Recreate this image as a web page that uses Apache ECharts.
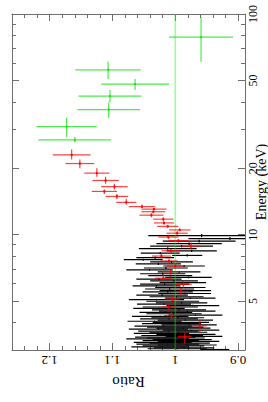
<!DOCTYPE html>
<html><head><meta charset="utf-8">
<script src="https://cdn.jsdelivr.net/npm/echarts@6/dist/echarts.min.js"></script>
<style>html,body{margin:0;padding:0;background:#fff}#c{width:268px;height:402px}</style>
</head><body><div id="c"></div>
<script>
// ---------- axis ticks ----------
const ratioMajorTicks = [0.9, 1, 1.1, 1.2];
const ratioMinorTicks = [0.92, 0.94, 0.96, 0.98, 1.02, 1.04, 1.06, 1.08, 1.12, 1.14, 1.16, 1.18, 1.22, 1.24];
const energyMajorTicks = [5, 10, 20, 50, 100];
const energyMinorTicks = [3, 4, 6, 7, 8, 9, 30, 40, 60, 70, 80, 90];

// ---------- black data (energy keV, half width keV, ratio, ratio error) ----------
const blackE = [9.90, 9.60, 9.35, 9.10, 8.87, 8.65, 8.44, 8.24, 8.05, 7.87, 7.70, 7.53, 7.37, 7.21, 7.06, 6.92, 6.78, 6.65, 6.52, 6.40, 6.28, 6.17, 6.06, 5.96, 5.86, 5.76, 5.67, 5.58,
  5.50, 5.41, 5.32, 5.23, 5.15, 5.07, 4.99, 4.91, 4.84, 4.77, 4.70, 4.63, 4.56, 4.50, 4.44, 4.38, 4.32, 4.26, 4.20, 4.15, 4.10, 4.05, 4.00, 3.95, 3.90, 3.85, 3.81, 3.77, 3.73, 3.69, 3.65, 3.61, 3.57, 3.53, 3.49, 3.46, 3.43, 3.40, 3.37, 3.34, 3.31, 3.28, 3.25, 3.22, 3.19, 3.16, 3.13, 3.10, 3.07, 3.04, 3.015];
const blackHw = [0.16, 0.15, 0.13, 0.12, 0.11, 0.11, 0.10, 0.10, 0.09, 0.09, 0.085, 0.08, 0.08, 0.075, 0.075, 0.07, 0.07, 0.065, 0.065, 0.06, 0.06, 0.055, 0.055, 0.05, 0.05, 0.05, 0.045, 0.045,
  0.045, 0.045, 0.045, 0.04, 0.04, 0.04, 0.04, 0.04, 0.035, 0.035, 0.035, 0.035, 0.035, 0.03, 0.03, 0.03, 0.03, 0.03, 0.03, 0.025, 0.025, 0.025, 0.025, 0.025, 0.025, 0.025, 0.02, 0.02, 0.02, 0.02, 0.02, 0.02, 0.02, 0.02, 0.02, 0.015, 0.015, 0.015, 0.015, 0.015, 0.015, 0.015, 0.015, 0.015, 0.015, 0.015, 0.015, 0.015, 0.015, 0.015, 0.015];
const blackR = [0.958, 0.913, 0.962, 0.978, 0.990, 1.012, 0.974, 1.024, 0.981, 1.032, 1.051, 1.006, 1.027, 0.986, 1.015, 1.041, 0.994, 1.020, 1.008, 0.979, 1.026, 1.002, 0.988, 1.017, 1.030, 0.992, 1.009, 0.984,
  1.012, 0.985, 1.021, 0.998, 0.976, 1.030, 1.004, 0.990, 1.018, 0.972, 1.008, 1.026, 0.994, 0.981, 1.015, 1.002, 0.968, 1.024, 0.996, 1.010, 0.984, 1.033, 0.991, 1.006, 0.978, 1.019, 1.000, 0.987, 1.027, 0.975, 1.011, 0.995, 1.022, 0.983, 1.005, 0.970, 1.016, 0.999, 1.028, 0.989, 1.007, 0.979, 1.020, 0.993, 1.012, 0.981, 1.003, 1.024, 0.986, 0.997, 0.937];
const blackErr = [0.085, 0.066, 0.058, 0.052, 0.050, 0.046, 0.040, 0.031, 0.024, 0.030, 0.031, 0.034, 0.036, 0.033, 0.035, 0.037, 0.034, 0.036, 0.035, 0.037, 0.036, 0.038, 0.037, 0.039, 0.038, 0.040, 0.039, 0.041,
  0.040, 0.042, 0.041, 0.043, 0.040, 0.044, 0.042, 0.041, 0.043, 0.042, 0.044, 0.041, 0.043, 0.045, 0.042, 0.044, 0.043, 0.045, 0.042, 0.046, 0.044, 0.043, 0.045, 0.047, 0.044, 0.046, 0.045, 0.043, 0.047, 0.045, 0.048, 0.046, 0.044, 0.047, 0.049, 0.045, 0.048, 0.046, 0.050, 0.047, 0.045, 0.049, 0.046, 0.048, 0.050, 0.047, 0.049, 0.046, 0.048, 0.047, 0.023];

// ---------- red data ----------
const redE   = [23.0, 21.0, 19.0, 17.6, 16.5, 15.7, 14.9, 14.0, 13.4, 13.05, 12.7, 12.25, 11.75, 11.3, 10.9, 10.5, 10.15, 9.75, 9.4, 8.86, 8.45, 8.0, 7.6, 7.2, 6.8, 6.35, 5.95, 5.53, 5.1, 4.7, 4.3, 3.86, 3.45];
const redElo = [21.9, 20.0, 18.3, 17.0, 16.0, 15.3, 14.5, 13.7, 13.2, 12.9, 12.5, 12.0, 11.5, 11.1, 10.7, 10.35, 10.0, 9.55, 9.2, 8.6, 8.2, 7.8, 7.4, 7.0, 6.6, 6.15, 5.75, 5.3, 4.9, 4.5, 4.1, 3.6, 3.2];
const redEhi = [24.3, 21.9, 20.0, 18.3, 17.0, 16.0, 15.3, 14.5, 13.7, 13.2, 12.9, 12.5, 12.0, 11.5, 11.1, 10.7, 10.35, 10.0, 9.55, 9.2, 8.6, 8.2, 7.8, 7.4, 7.0, 6.6, 6.15, 5.75, 5.3, 4.9, 4.5, 4.1, 3.6];
const redR   = [1.165, 1.152, 1.125, 1.111, 1.097, 1.113, 1.093, 1.078, 1.053, 1.034, 1.035, 1.038, 1.019, 1.018, 1.012, 0.993, 0.997, 1.011, 0.995, 0.975, 1.007, 1.022, 1.010, 1.000, 1.007, 1.019, 0.987, 0.991, 1.005, 1.010, 1.006, 0.961, 0.985];
const redErr = [0.030, 0.023, 0.020, 0.021, 0.021, 0.020, 0.018, 0.016, 0.021, 0.020, 0.019, 0.019, 0.016, 0.016, 0.017, 0.017, 0.017, 0.016, 0.016, 0.015, 0.015, 0.015, 0.014, 0.014, 0.014, 0.013, 0.013, 0.012, 0.012, 0.012, 0.012, 0.011, 0.011];

// ---------- green data ----------
const greenE   = [78.5, 55.8, 48.1, 42.4, 36.9, 30.9, 26.9];
const greenElo = [60.7, 50.8, 45.3, 39.7, 33.8, 27.7, 26.2];
const greenEhi = [97.0, 60.7, 50.8, 45.3, 39.7, 33.8, 27.7];
const greenR   = [0.959, 1.107, 1.064, 1.104, 1.106, 1.173, 1.160];
const greenErr = [0.051, 0.052, 0.054, 0.050, 0.050, 0.048, 0.058];

const refLine = [[1, 3], [1, 100]];

// ---------- build ----------
function rows(E, lo, hi, R, err) {
  const out = [];
  for (let i = 0; i < E.length; i++) out.push([R[i], E[i], err[i], lo[i], hi[i]]);
  return out;
}
const blackData = rows(blackE, blackE.map((e, i) => e - blackHw[i]), blackE.map((e, i) => e + blackHw[i]), blackR, blackErr);
const redData = rows(redE, redElo, redEhi, redR, redErr);
const greenData = rows(greenE, greenElo, greenEhi, greenR, greenErr);

function crossRenderer(color, width, dot) {
  return function (params, api) {
    const r = api.value(0), E = api.value(1), re = api.value(2), lo = api.value(3), hi = api.value(4);
    const c = api.coord([r, E]);
    const h1 = api.coord([r - re, E]), h2 = api.coord([r + re, E]);
    const v1 = api.coord([r, lo]), v2 = api.coord([r, hi]);
    const kids = [
      { type: 'line', shape: { x1: h1[0], y1: h1[1], x2: h2[0], y2: h2[1] }, style: { stroke: color, lineWidth: width } },
      { type: 'line', shape: { x1: v1[0], y1: v1[1], x2: v2[0], y2: v2[1] }, style: { stroke: color, lineWidth: width } }
    ];
    if (dot) kids.push({ type: 'rect', shape: { x: c[0] - 1, y: c[1] - 1, width: 2, height: 2 }, style: { fill: dot } });
    return { type: 'group', children: kids };
  };
}

const FONT = "'Liberation Serif', 'DejaVu Serif', serif";
const axisLineStyle = { color: '#6e6e6e', width: 1 };
const grid = { left: 12, right: 23, top: 14, bottom: 52, containLabel: false, outerBoundsMode: 'none' };
const RMIN = 0.889, RMAX = 1.26;

function xAx(gridIndex, position, ticks, len, showLine, extra) {
  return Object.assign({
    type: 'value', gridIndex, position, min: RMIN, max: RMAX, inverse: true,
    axisLine: { show: showLine, lineStyle: axisLineStyle },
    axisTick: { show: true, inside: true, length: len, customValues: ticks, lineStyle: axisLineStyle },
    axisLabel: { show: false }, splitLine: { show: false }
  }, extra || {});
}
function yAx(gridIndex, position, ticks, len, showLine, extra) {
  return Object.assign({
    type: 'log', logBase: 10, gridIndex, position, min: 3, max: 100,
    axisLine: { show: showLine, lineStyle: axisLineStyle },
    axisTick: { show: true, inside: true, length: len, customValues: ticks, lineStyle: axisLineStyle },
    axisLabel: { show: false }, splitLine: { show: false }
  }, extra || {});
}

const option = {
  backgroundColor: '#fff',
  animation: false,
  grid: [grid, Object.assign({}, grid)],
  xAxis: [
    xAx(0, 'bottom', ratioMajorTicks, 7, true, {
      axisLabel: { show: true, customValues: ratioMajorTicks, rotate: 180, margin: 4,
        fontFamily: FONT, fontSize: 13, color: '#000',
        formatter: v => String(+(+v).toFixed(2)) },
      name: 'Ratio', nameLocation: 'middle', nameRotate: 180, nameGap: 24, nameMoveOverlap: false,
      nameTextStyle: { fontFamily: FONT, fontSize: 15, color: '#000' }
    }),
    xAx(0, 'top', ratioMajorTicks, 7, true),
    xAx(1, 'bottom', ratioMinorTicks, 4, false),
    xAx(1, 'top', ratioMinorTicks, 4, false)
  ],
  yAxis: [
    yAx(0, 'right', energyMajorTicks, 7, true, {
      axisLabel: { show: true, customValues: energyMajorTicks, rotate: 90, margin: 2,
        fontFamily: FONT, fontSize: 12, color: '#000',
        formatter: v => String(Math.round(v)) },
      name: 'Energy (keV)', nameLocation: 'middle', nameRotate: 90, nameGap: 9, nameMoveOverlap: false,
      nameTextStyle: { fontFamily: FONT, fontSize: 14, lineHeight: 14, color: '#000' }
    }),
    yAx(0, 'left', energyMajorTicks, 7, true),
    yAx(1, 'right', energyMinorTicks, 4, false),
    yAx(1, 'left', energyMinorTicks, 4, false)
  ],
  series: [
    { type: 'custom', xAxisIndex: 0, yAxisIndex: 0, clip: true, data: blackData,
      encode: { x: 0, y: 1 }, renderItem: crossRenderer('#000', 1.2, null), z: 2 },
    { type: 'line', xAxisIndex: 0, yAxisIndex: 0, data: refLine, symbol: 'none',
      lineStyle: { color: 'rgba(0,255,0,0.4)', width: 1.6 }, z: 3, silent: true },
    { type: 'custom', xAxisIndex: 0, yAxisIndex: 0, clip: true, data: redData,
      encode: { x: 0, y: 1 }, renderItem: crossRenderer('rgba(255,0,0,0.75)', 1.2, '#ff0000'), z: 4 },
    { type: 'custom', xAxisIndex: 0, yAxisIndex: 0, clip: true, data: greenData,
      encode: { x: 0, y: 1 }, renderItem: crossRenderer('rgba(0,225,0,0.7)', 1.2, '#22dd22'), z: 5 }
  ]
};

const chart = echarts.init(document.getElementById('c'), null, { renderer: 'svg' });
chart.setOption(option);
</script></body></html>
